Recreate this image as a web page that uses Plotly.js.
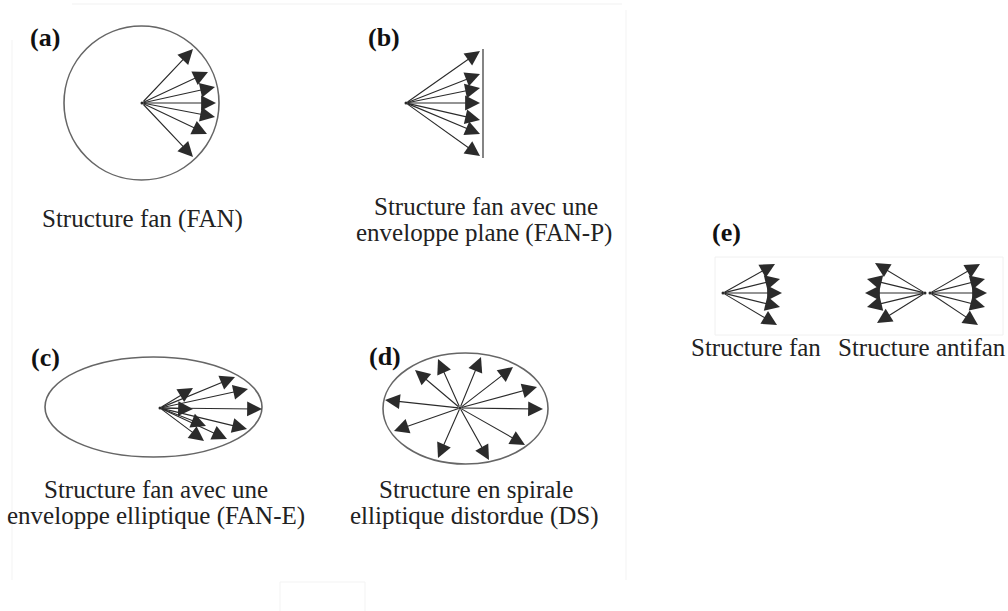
<!DOCTYPE html>
<html>
<head>
<meta charset="utf-8">
<script src="https://cdn.plot.ly/plotly-3.0.1.min.js"></script>
<style>html,body{margin:0;padding:0;background:#fff;}#chart{width:1008px;height:611px;}</style>
</head>
<body>
<div id="chart"></div>
<script>
// ---- Panel (a): fan inside a circle ----
const aCenter = [142, 103];
const aTipX = [193, 208, 215, 216, 215, 207, 193];
const aTipY = [49, 72, 87, 103, 117, 134, 157];
const aCircle = [64, 26, 219, 180]; // x0,y0,x1,y1

// ---- Panel (b): fan with plane envelope ----
const bCenter = [406, 103];
const bTipX = [480, 480, 480, 480, 480, 480, 480];
const bTipY = [51, 74, 88, 103, 120, 134, 156];
const bPlane = [483, 49, 483, 158];

// ---- Panel (c): fan with elliptical envelope ----
const cCenter = [160, 408];
const cTipX = [193, 235, 248, 262, 193, 206, 247, 227, 204];
const cTipY = [388, 377, 389, 409, 409, 426, 429, 439, 441];
const cEllipse = [45, 357, 262, 457];

// ---- Panel (d): distorted elliptical spiral ----
const dCenter = [460, 408];
const dTipX = [543, 537, 513, 481, 438, 415, 385, 394, 438, 489, 525];
const dTipY = [409, 387, 367, 357, 359, 370, 400, 431, 458, 460, 445];
const dEllipse = [383, 353, 548, 464];

// ---- Panel (e): fan and antifan ----
const eFanCenter = [723, 293];
const eFanTipX = [775, 780, 782, 780, 777];
const eFanTipY = [264, 279, 293, 307, 325];
const eAntiLeftCenter = [925, 293];
const eAntiLeftTipX = [875, 867, 865, 867, 877];
const eAntiLeftTipY = [263, 279, 293, 307, 323];
const eAntiRightCenter = [930, 293];
const eAntiRightTipX = [980, 985, 987, 985, 978];
const eAntiRightTipY = [264, 279, 293, 307, 325];

// ---- Texts ----
const panelLabels = ['(a)', '(b)', '(c)', '(d)', '(e)'];
const panelLabelPos = [[45, 37], [384, 37], [45, 357], [385, 356], [726, 232]];
const captionLines = [
  'Structure fan (FAN)',
  'Structure fan avec une',
  'enveloppe plane (FAN-P)',
  'Structure fan avec une',
  'enveloppe elliptique (FAN-E)',
  'Structure en spirale',
  'elliptique distordue (DS)',
  'Structure fan',
  'Structure antifan'
];
const captionPos = [[142, 219], [486, 206], [484, 233], [156, 489], [156, 516], [476, 489], [474, 516], [756, 347], [922, 347]];

const arrowColor = '#2b2b2b';
const serif = 'Liberation Serif, Times New Roman, serif';

function arrows(center, tx, ty) {
  return tx.map((x, i) => ({
    x: x, y: ty[i], ax: center[0], ay: center[1],
    xref: 'x', yref: 'y', axref: 'x', ayref: 'y',
    showarrow: true, arrowhead: 2, arrowsize: 2.7, arrowwidth: 1.1,
    arrowcolor: arrowColor, text: ''
  }));
}

let annotations = [];
annotations = annotations.concat(arrows(aCenter, aTipX, aTipY));
annotations = annotations.concat(arrows(bCenter, bTipX, bTipY));
annotations = annotations.concat(arrows(cCenter, cTipX, cTipY));
annotations = annotations.concat(arrows(dCenter, dTipX, dTipY));
annotations = annotations.concat(arrows(eFanCenter, eFanTipX, eFanTipY));
annotations = annotations.concat(arrows(eAntiLeftCenter, eAntiLeftTipX, eAntiLeftTipY));
annotations = annotations.concat(arrows(eAntiRightCenter, eAntiRightTipX, eAntiRightTipY));

panelLabels.forEach((t, i) => annotations.push({
  x: panelLabelPos[i][0], y: panelLabelPos[i][1], xref: 'x', yref: 'y',
  text: '<b>' + t + '</b>', showarrow: false,
  font: {family: serif, size: 26, color: '#111'}
}));
captionLines.forEach((t, i) => annotations.push({
  x: captionPos[i][0], y: captionPos[i][1], xref: 'x', yref: 'y',
  text: t, showarrow: false, align: 'center',
  font: {family: serif, size: 25, color: '#222'}
}));

const outline = {color: '#666', width: 1.6};
const shapes = [
  {type: 'circle', xref: 'x', yref: 'y', x0: aCircle[0], y0: aCircle[1], x1: aCircle[2], y1: aCircle[3], line: outline},
  {type: 'line', xref: 'x', yref: 'y', x0: bPlane[0], y0: bPlane[1], x1: bPlane[2], y1: bPlane[3], line: outline},
  {type: 'circle', xref: 'x', yref: 'y', x0: cEllipse[0], y0: cEllipse[1], x1: cEllipse[2], y1: cEllipse[3], line: outline},
  {type: 'circle', xref: 'x', yref: 'y', x0: dEllipse[0], y0: dEllipse[1], x1: dEllipse[2], y1: dEllipse[3], line: outline},
  // faint scan borders
  {type: 'line', xref: 'x', yref: 'y', x0: 72, y0: 4, x1: 622, y1: 4, line: {color: '#f1f1f1', width: 1}},
  {type: 'line', xref: 'x', yref: 'y', x0: 12, y0: 40, x1: 12, y1: 580, line: {color: '#f3f3f3', width: 1}},
  {type: 'line', xref: 'x', yref: 'y', x0: 626, y0: 10, x1: 626, y1: 580, line: {color: '#f3f3f3', width: 1}},
  {type: 'rect', xref: 'x', yref: 'y', x0: 715, y0: 257, x1: 1003, y1: 335, line: {color: '#f0f0f0', width: 1}},
  {type: 'rect', xref: 'x', yref: 'y', x0: 280, y0: 582, x1: 365, y1: 615, line: {color: '#f3f3f3', width: 1}}
];

const centers = [aCenter, bCenter, cCenter, dCenter, eFanCenter, eAntiLeftCenter, eAntiRightCenter];
const trace = {
  x: centers.map(c => c[0]), y: centers.map(c => c[1]),
  mode: 'markers', type: 'scatter', hoverinfo: 'skip',
  marker: {size: 3, color: arrowColor}, showlegend: false
};

const layout = {
  width: 1008, height: 611,
  margin: {l: 0, r: 0, t: 0, b: 0},
  paper_bgcolor: '#fff', plot_bgcolor: '#fff',
  xaxis: {range: [0, 1008], visible: false, showgrid: false, zeroline: false, fixedrange: true},
  yaxis: {range: [611, 0], visible: false, showgrid: false, zeroline: false, fixedrange: true},
  shapes: shapes,
  annotations: annotations,
  showlegend: false
};

Plotly.newPlot('chart', [trace], layout, {displayModeBar: false, staticPlot: true});
</script>
</body>
</html>
